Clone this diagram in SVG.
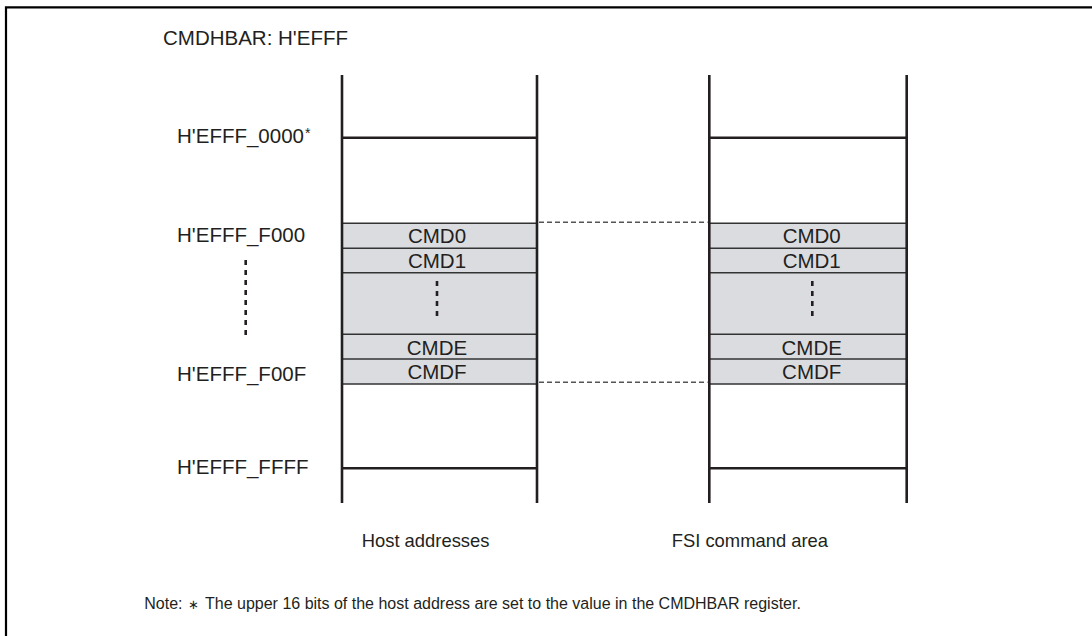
<svg xmlns="http://www.w3.org/2000/svg" width="1092" height="636" viewBox="0 0 1092 636">
<style>
  text { font-family: "Liberation Sans", Arial, sans-serif; fill: #231f20; }
  .big { font-size: 20.5px; }
  .title { font-size: 20.5px; }
  .lab { font-size: 18.4px; }
  .note { font-size: 16px; }
  .col { stroke: #231f20; stroke-width: 2.6; fill: none; }
  .hl { stroke: #231f20; stroke-width: 2.4; fill: none; }
  .row { stroke: #333; stroke-width: 1.5; fill: none; }
  .gray { fill: #dadce0; }
  .dots { stroke: #231f20; stroke-width: 2.6; stroke-dasharray: 5 5; fill: none; }
  .conn { stroke: #555; stroke-width: 1.4; stroke-dasharray: 5 3; fill: none; }
</style>
<path d="M6,640 V7.3 H1100" stroke="#000" stroke-width="2.2" fill="none"/>
<text class="title" x="163" y="45">CMDHBAR: H'EFFF</text>

<g id="addr-labels">
  <text class="big" x="177" y="143.3">H'EFFF_0000</text>
  <text x="305" y="138" style="font-size:14px">*</text>
  <text class="big" x="177" y="242.3">H'EFFF_F000</text>
  <path class="dots" d="M245.7,260 V340"/>
  <text class="big" x="177" y="380.7">H'EFFF_F00F</text>
  <text class="big" x="177" y="474">H'EFFF_FFFF</text>
</g>

<g id="host">
  <rect class="gray" x="342" y="223.3" width="195" height="160.7"/>
  <path class="row" d="M342,223.3 H537 M342,248.3 H537 M342,272.7 H537 M342,334.3 H537 M342,359 H537 M342,384 H537"/>
  <path class="hl" d="M342,137.7 H537 M342,468.3 H537"/>
  <path class="col" d="M342,75 V503 M537,75 V503"/>
  <text class="big" x="437" y="243.3" text-anchor="middle">CMD0</text>
  <text class="big" x="437" y="268.3" text-anchor="middle">CMD1</text>
  <path class="dots" d="M437,281 V318"/>
  <text class="big" x="437" y="355" text-anchor="middle">CMDE</text>
  <text class="big" x="437" y="379.3" text-anchor="middle">CMDF</text>
  <text class="lab" x="361.7" y="547">Host addresses</text>
</g>

<g id="fsi">
  <rect class="gray" x="709.3" y="223.3" width="197.4" height="160.7"/>
  <path class="row" d="M709.3,223.3 H906.7 M709.3,248.3 H906.7 M709.3,272.7 H906.7 M709.3,334.3 H906.7 M709.3,359 H906.7 M709.3,384 H906.7"/>
  <path class="hl" d="M709.3,137.7 H906.7 M709.3,468.3 H906.7"/>
  <path class="col" d="M709.3,75 V503 M906.7,75 V503"/>
  <text class="big" x="811.7" y="243.3" text-anchor="middle">CMD0</text>
  <text class="big" x="811.7" y="268.3" text-anchor="middle">CMD1</text>
  <path class="dots" d="M812.3,281 V318"/>
  <text class="big" x="811.7" y="355" text-anchor="middle">CMDE</text>
  <text class="big" x="811.7" y="379.3" text-anchor="middle">CMDF</text>
  <text class="lab" x="671.7" y="547">FSI command area</text>
</g>

<g id="connectors">
  <path class="conn" d="M539,222.3 H707.5"/>
  <path class="conn" d="M539,382.3 H707.5"/>
</g>

<text class="note" y="609"><tspan x="144.3">Note:</tspan><tspan x="188" style="font-size:13px">∗</tspan><tspan x="205">The upper 16 bits of the host address are set to the value in the CMDHBAR register.</tspan></text>
</svg>
